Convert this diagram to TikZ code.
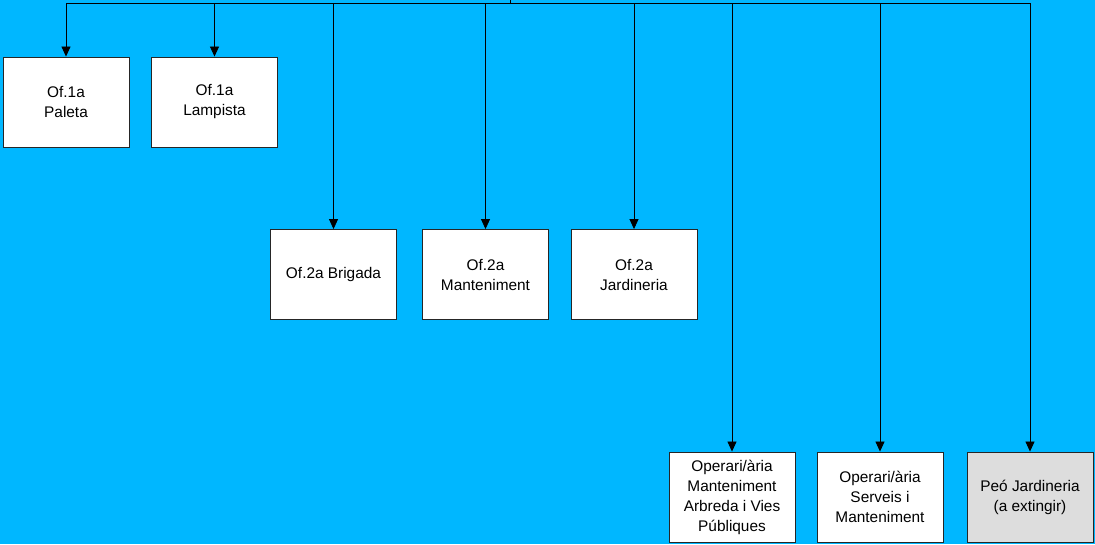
\documentclass[tikz,border=0pt]{standalone}
\usepackage{fontspec}
\setmainfont{Liberation Sans}
\usetikzlibrary{arrows.meta}
\definecolor{bg}{RGB}{0,183,255}
\definecolor{greybox}{RGB}{221,221,221}
\begin{document}
\begin{tikzpicture}[x=1pt,y=-1pt,
  post/.style={draw=black!85,line width=0.9pt,fill=white,minimum width=126pt,minimum height=90pt,
    align=center,inner sep=0pt,font=\fontsize{15.4pt}{20pt}\selectfont},
  conn/.style={draw=black,line width=0.8pt,-{Triangle[width=9pt,length=10pt]}}]
\fill[bg] (0,0) rectangle (1095,544);
\useasboundingbox (0,0) rectangle (1095,544);
% row 1
\node[post] (p1) at (66,102) {Of.1a\\Paleta};
\node[post] (p2) at (214.5,102) {Of.1a\\Lampista};
% row 2
\node[post] (p3) at (333.5,274.5) {Of.2a Brigada};
\node[post] (p4) at (485.5,274.5) {Of.2a\\Manteniment};
\node[post] (p5) at (634,274.5) {Of.2a\\Jardineria};
% row 3
\node[post] (p6) at (732,497) {Operari/ària\\Manteniment\\Arbreda i Vies\\Públiques};
\node[post] (p7) at (880,497) {Operari/ària\\Serveis i\\Manteniment};
\node[post,fill=greybox] (p8) at (1030,497) {Peó Jardineria\\(a extingir)};
% connectors
\coordinate (root) at (510,-1);
\coordinate (bus) at (510,3.5);
\foreach \n in {p1,p2,p3,p4,p5,p6,p7,p8}{
  \draw[conn] (root) -- (bus) -| (\n.north);
}
\end{tikzpicture}
\end{document}
